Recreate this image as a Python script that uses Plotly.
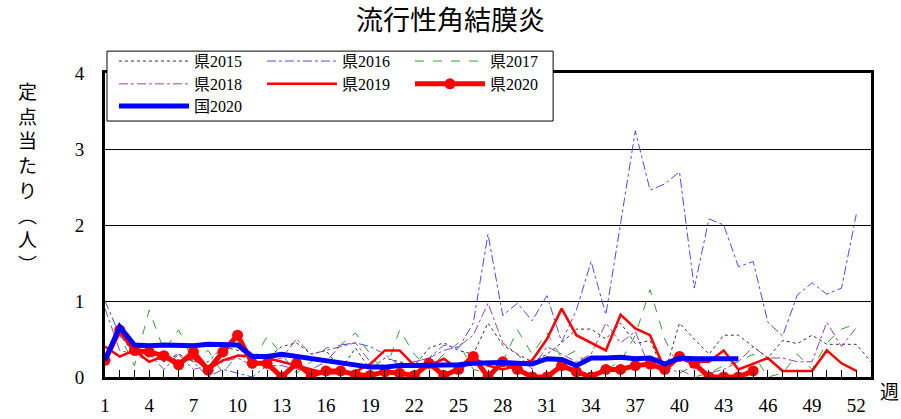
import plotly.graph_objects as go

weeks53 = list(range(1, 54))
weeks52 = list(range(1, 53))

ken2015 = [0.3, 0.6, 0.3, 0.3, 0.2, 0.3, 0.2, 0.2, 0.4, 0.35,
           0.3, 0.25, 0.4, 0.45, 0.3, 0.35, 0.1, 0.38, 0.1, 0.25,
           0.2, 0.15, 0.38, 0.45, 0.35, 0.3, 0.71, 0.42, 0.3, 0.2,
           0.3, 0.45, 0.63, 0.63, 0.5, 0.71, 0.44, 0.48, 0.05, 0.71,
           0.5, 0.3, 0.55, 0.55, 0.4, 0.25, 0.48, 0.44, 0.55, 0.43,
           0.43, 0.43, 0.2]
ken2016 = [1.0, 0.55, 0.3, 0.3, 0.1, 0.3, 0.2, 0.0, 0.1, 0.05,
           0.0, 0.15, 0.15, 0.1, 0.1, 0.2, 0.42, 0.45, 0.4, 0.3,
           0.15, 0.2, 0.25, 0.42, 0.38, 0.71, 1.88, 0.81, 0.97, 0.74,
           1.07, 0.46, 0.88, 1.52, 0.82, 2.02, 3.24, 2.46, 2.54, 2.70,
           1.17, 2.08, 2.0, 1.45, 1.52, 0.72, 0.54, 1.08, 1.24, 1.09,
           1.17, 2.14]
ken2017 = [0.3, 0.55, 0.15, 0.88, 0.35, 0.62, 0.2, 0.35, 0.05, 0.3,
           0.2, 0.53, 0.3, 0.05, 0.2, 0.38, 0.42, 0.58, 0.3, 0.05,
           0.62, 0.3, 0.1, 0.3, 0.45, 0.1, 0.05, 0.2, 0.62, 0.3,
           0.58, 0.25, 0.35, 0.05, 0.1, 0.2, 0.55, 1.15, 0.5, 0.1,
           0.0, 0.05, 0.15, 0.2, 0.3, 0.0, 0.05, 0.3, 0.1, 0.45,
           0.63, 0.7]
ken2018 = [0.9, 0.35, 0.3, 0.2, 0.25, 0.3, 0.1, 0.15, 0.2, 0.25,
           0.15, 0.2, 0.25, 0.5, 0.3, 0.35, 0.4, 0.45, 0.2, 0.1,
           0.15, 0.2, 0.25, 0.35, 0.4, 0.55, 0.97, 0.45, 0.3, 0.1,
           0.4, 0.3, 0.2, 0.3, 0.71, 0.45, 0.6, 0.1, 0.15, 0.05,
           0.15, 0.05, 0.1, 0.2, 0.4, 0.25, 0.25, 0.2, 0.2, 0.72,
           0.4, 0.65]
ken2019 = [0.4, 0.27, 0.35, 0.2, 0.28, 0.2, 0.25, 0.1, 0.22, 0.28,
           0.28, 0.25, 0.2, 0.15, 0.1, 0.05, 0.05, 0.07, 0.17, 0.35,
           0.35, 0.15, 0.15, 0.24, 0.1, 0.25, 0.15, 0.1, 0.15, 0.22,
           0.5, 0.9, 0.55, 0.45, 0.35, 0.82, 0.64, 0.55, 0.1, 0.25,
           0.2, 0.2, 0.35, 0.1, 0.18, 0.25, 0.08, 0.08, 0.08, 0.35,
           0.18, 0.08]
ken2020 = [0.22, 0.62, 0.35, 0.33, 0.28, 0.16, 0.33, 0.09, 0.33, 0.55,
           0.18, 0.18, 0.0, 0.18, 0.02, 0.08, 0.08, 0.03, 0.02, 0.07,
           0.05, 0.02, 0.18, 0.02, 0.1, 0.27, 0.0, 0.2, 0.1, 0.0,
           0.0, 0.15, 0.07, 0.0, 0.1, 0.1, 0.15, 0.17, 0.1, 0.27,
           0.18, 0.0, 0.0, 0.0, 0.08]
kuni2020 = [0.22, 0.66, 0.42, 0.41, 0.42, 0.42, 0.41, 0.43, 0.42, 0.42,
            0.27, 0.27, 0.30, 0.27, 0.24, 0.21, 0.18, 0.16, 0.13, 0.13,
            0.15, 0.15, 0.15, 0.16, 0.16, 0.18, 0.19, 0.19, 0.18, 0.17,
            0.24, 0.23, 0.15, 0.25, 0.25, 0.26, 0.24, 0.25, 0.17, 0.25,
            0.24, 0.24, 0.23, 0.24]

xtick_vals = list(range(1, 53, 3))
xtick_text = [str(v) for v in xtick_vals]
ytick_vals = [0, 1, 2, 3, 4]

SERIF = "Liberation Serif, Noto Sans CJK JP"
CJK = "Noto Sans CJK JP"

fig = go.Figure()
fig.add_trace(go.Scatter(x=weeks53, y=ken2015, mode="lines", name="県2015", legend="legend",
                         line=dict(color="#333333", width=1, dash="dot")))
fig.add_trace(go.Scatter(x=weeks52, y=ken2016, mode="lines", name="県2016", legend="legend",
                         line=dict(color="#4a4aff", width=1, dash="dashdot")))
fig.add_trace(go.Scatter(x=weeks52, y=ken2017, mode="lines", name="県2017", legend="legend",
                         line=dict(color="#33a033", width=1, dash="dash")))
fig.add_trace(go.Scatter(x=weeks52, y=ken2018, mode="lines", name="県2018", legend="legend2",
                         line=dict(color="#a040a0", width=1, dash="dashdot")))
fig.add_trace(go.Scatter(x=weeks52, y=ken2019, mode="lines", name="県2019", legend="legend2",
                         line=dict(color="#ff0000", width=2.5)))
fig.add_trace(go.Scatter(x=list(range(1, len(ken2020) + 1)), y=ken2020,
                         mode="lines+markers", name="県2020", legend="legend2",
                         line=dict(color="#ff0000", width=5),
                         marker=dict(color="#ff0000", size=11)))
fig.add_trace(go.Scatter(x=list(range(1, len(kuni2020) + 1)), y=kuni2020,
                         mode="lines", name="国2020", legend="legend3",
                         line=dict(color="#0000ff", width=5)))

leg_common = dict(orientation="h", xanchor="left", yanchor="middle",
                  bgcolor="rgba(0,0,0,0)", borderwidth=0,
                  font=dict(family=SERIF, size=16, color="#000000"),
                  itemwidth=70, entrywidth=63, entrywidthmode="pixels",
                  traceorder="normal")
LEG_X = 0.0117

fig.update_layout(
    width=901, height=419,
    margin=dict(l=105, r=30, t=73, b=42, autoexpand=False),
    paper_bgcolor="white", plot_bgcolor="white",
    title=dict(text="流行性角結膜炎", x=0.5, xanchor="center", y=0.951, yanchor="middle",
               font=dict(family=CJK, size=27, color="#000000")),
    font=dict(family=SERIF, color="#000000"),
    showlegend=True,
    legend=dict(x=LEG_X, y=1.039, **leg_common),
    legend2=dict(x=LEG_X, y=0.964, **leg_common),
    legend3=dict(x=LEG_X, y=0.891, **leg_common),
    xaxis=dict(range=[1, 53], tickvals=xtick_vals, ticktext=xtick_text,
               automargin=False,
               ticks="inside", ticklen=7, tickcolor="#000000", tickwidth=1,
               ticklabelstandoff=9,
               minor=dict(ticks="inside", dtick=1, tick0=1, ticklen=7,
                          tickcolor="#000000", tickwidth=1, showgrid=False),
               showgrid=False, zeroline=False,
               showline=True, linecolor="#000000", linewidth=3, mirror=True,
               tickfont=dict(family=SERIF, size=19, color="#000000")),
    yaxis=dict(range=[0, 4], tickvals=ytick_vals,
               automargin=False,
               ticks="inside", ticklen=5, tickcolor="#000000",
               ticklabelstandoff=14,
               showgrid=True, gridcolor="#000000", gridwidth=1,
               zeroline=False,
               showline=True, linecolor="#000000", linewidth=3, mirror=True,
               tickfont=dict(family=SERIF, size=19, color="#000000")),
)

# legend frame
fig.add_shape(type="rect", xref="paper", yref="paper",
              x0=0.0026, x1=0.585, y0=0.842, y1=1.072,
              line=dict(color="#000000", width=1), fillcolor="white", layer="above")

fig.add_annotation(text="定<br>点<br>当<br>た<br>り<br>︵<br>人<br>︶",
                   xref="paper", yref="paper", x=-0.101, y=1.0, yshift=-2,
                   xanchor="center", yanchor="top", showarrow=False,
                   font=dict(family=CJK, size=19, color="#000000"))
fig.add_annotation(text="週", xref="paper", yref="paper", x=1.0, y=-0.043,
                   xanchor="left", yanchor="middle", xshift=7, showarrow=False,
                   font=dict(family=CJK, size=19, color="#000000"))

fig.write_html("out.html", config={"displayModeBar": False},
               post_script="document.body.style.margin='0';")
